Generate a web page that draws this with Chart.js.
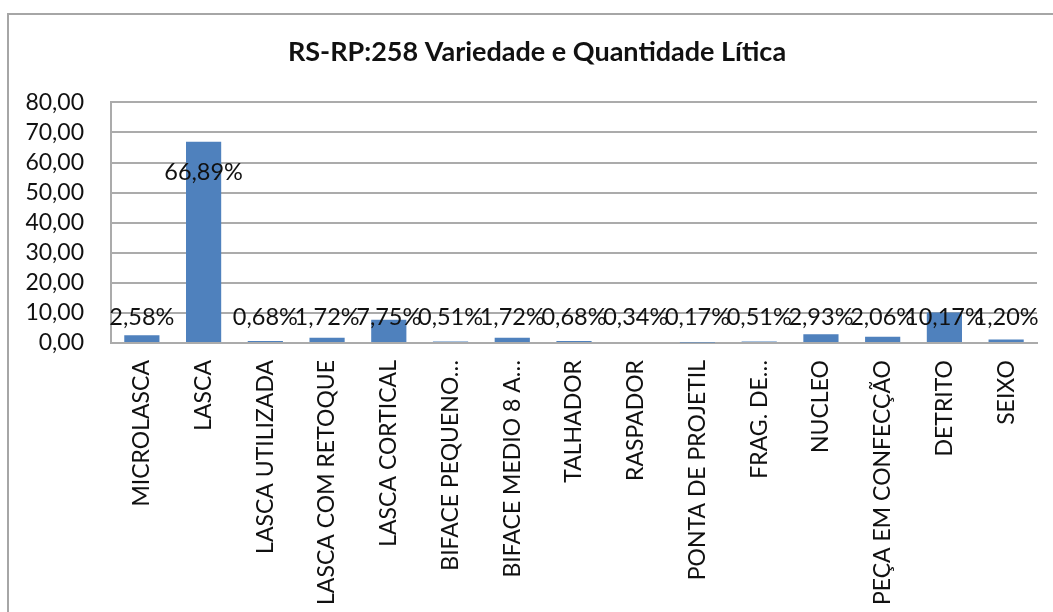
<!DOCTYPE html>
<html>
<head>
<meta charset="utf-8">
<script src="https://cdn.jsdelivr.net/npm/chart.js@4"></script>
<style>
  html, body { margin: 0; padding: 0; background: #fff; overflow: hidden; }
  #frame { position: absolute; left: 7px; top: 13px; width: 1200px; height: 800px;
           border: 2px solid #a6a6a6; box-sizing: border-box; }
  #wrap { position: absolute; left: 0; top: 0; width: 1074px; height: 612px; }
</style>
</head>
<body>
<div id="frame"></div>
<div id="wrap"><canvas id="litica"></canvas></div>
<script>
const categories = [
    'MICROLASCA', 'LASCA', 'LASCA UTILIZADA', 'LASCA COM RETOQUE', 'LASCA CORTICAL',
    'BIFACE PEQUENO…', 'BIFACE MEDIO 8 A…', 'TALHADOR', 'RASPADOR', 'PONTA DE PROJETIL',
    'FRAG. DE…', 'NUCLEO', 'PEÇA EM CONFECÇÃO', 'DETRITO', 'SEIXO'
];
const percentages = [2.58, 66.89, 0.68, 1.72, 7.75, 0.51, 1.72, 0.68, 0.34, 0.17, 0.51, 2.93, 2.06, 10.17, 1.20];
const yTicks = [0, 10, 20, 30, 40, 50, 60, 70, 80];

const fontFamily = 'Lato, "Noto Sans", sans-serif';
const textColor = '#111';
const gridColor = '#ababab';

const fmt = v => v.toFixed(2).replace('.', ',');

// data labels like Excel's, drawn over the bars
const valueLabels = {
    id: 'valueLabels',
    afterDatasetsDraw(chart) {
        const ctx = chart.ctx;
        const meta = chart.getDatasetMeta(0);
        const yScale = chart.scales.y;
        ctx.save();
        ctx.font = `23.5px ${fontFamily}`;
        ctx.fillStyle = textColor;
        ctx.textAlign = 'center';
        ctx.textBaseline = 'middle';
        meta.data.forEach((bar, i) => {
            const v = percentages[i];
            const level = v > 20 ? v - 10.2 : 8.5;
            ctx.fillText(fmt(v) + '%', bar.x, yScale.getPixelForValue(level));
        });
        ctx.restore();
    }
};

const ctx = document.getElementById('litica').getContext('2d');
new Chart(ctx, {
    type: 'bar',
    data: {
        labels: categories,
        datasets: [{
            data: percentages,
            backgroundColor: '#4f81bd',
            barPercentage: 0.57,
            categoryPercentage: 1.0
        }]
    },
    options: {
        responsive: true,
        maintainAspectRatio: false,
        animation: false,
        layout: { padding: 0 },
        plugins: {
            legend: { display: false },
            tooltip: { enabled: false },
            title: {
                display: true,
                text: 'RS-RP:258 Variedade e Quantidade Lítica',
                color: textColor,
                font: { family: fontFamily, size: 27, weight: 'bold' },
                padding: { top: 36, bottom: 34 }
            }
        },
        scales: {
            x: {
                grid: { display: false, drawTicks: false },
                border: { display: true, color: gridColor, width: 2 },
                ticks: {
                    autoSkip: false,
                    minRotation: 90,
                    maxRotation: 90,
                    padding: 17,
                    color: textColor,
                    font: { family: fontFamily, size: 23 }
                },
                afterFit: s => { s.height = 269; }
            },
            y: {
                min: 0,
                max: 80,
                afterBuildTicks: s => { s.ticks = yTicks.map(v => ({ value: v })); },
                grid: { color: gridColor, lineWidth: 2, drawTicks: false },
                border: { display: true, color: gridColor, width: 2 },
                ticks: {
                    autoSkip: false,
                    padding: 27,
                    color: textColor,
                    font: { family: fontFamily, size: 23 },
                    callback: v => fmt(v)
                },
                afterFit: s => { s.width = 111; }
            },
            // empty strip on the right so the title centres on the whole frame
            spacer: {
                type: 'linear',
                position: 'right',
                grid: { display: false, drawTicks: false },
                border: { display: false },
                ticks: { display: false },
                afterFit: s => { s.width = 37; }
            }
        }
    },
    plugins: [valueLabels]
});
</script>
</body>
</html>
